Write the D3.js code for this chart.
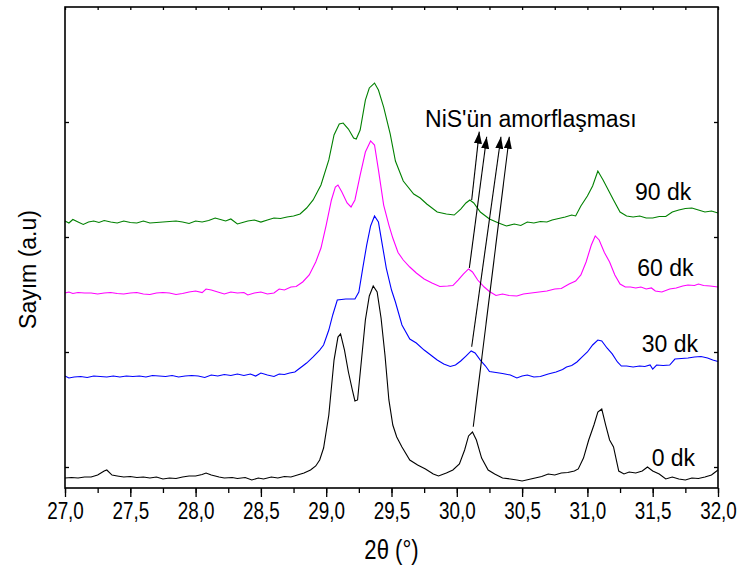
<!DOCTYPE html>
<html>
<head>
<meta charset="utf-8">
<script src="https://cdn.jsdelivr.net/npm/d3@7/dist/d3.min.js"></script>
<style>
  body { margin: 0; background: #fff; }
  .sans { font-family: "Liberation Sans", Arial, sans-serif; }
</style>
</head>
<body>
<div id="chart"></div>
<script>
// 2θ (°) and counts (a.u., curves are offset)
var dk0 = [[27.00,-9.6],[27.05,-9.1],[27.10,-9.6],[27.15,-8.7],[27.20,-8.7],[27.25,-7.0],[27.30,-3.5],[27.32,-2.6],[27.36,-7.0],[27.40,-7.8],[27.45,-8.7],[27.50,-8.3],[27.55,-9.1],[27.60,-8.7],[27.65,-9.6],[27.70,-8.7],[27.75,-10.4],[27.80,-9.6],[27.85,-10.0],[27.90,-8.7],[27.95,-7.8],[28.00,-7.8],[28.05,-6.5],[28.08,-5.2],[28.12,-7.0],[28.18,-8.7],[28.22,-9.6],[28.28,-9.1],[28.32,-10.0],[28.38,-9.1],[28.43,-11.3],[28.48,-9.6],[28.52,-10.4],[28.58,-8.7],[28.63,-9.6],[28.68,-8.3],[28.73,-8.7],[28.78,-7.0],[28.83,-5.2],[28.88,-2.6],[28.92,0.9],[28.95,6.1],[28.98,16.5],[29.02,45.2],[29.06,93.0],[29.09,113.0],[29.11,115.7],[29.14,101.7],[29.17,82.6],[29.20,67.0],[29.22,57.4],[29.24,58.3],[29.27,93.0],[29.30,127.8],[29.33,148.7],[29.36,157.4],[29.39,152.2],[29.42,129.6],[29.45,97.4],[29.48,58.3],[29.51,36.5],[29.54,26.1],[29.58,17.4],[29.64,6.1],[29.70,1.7],[29.76,-1.7],[29.82,-6.1],[29.86,-7.8],[29.92,-5.2],[29.97,-2.6],[30.02,2.6],[30.06,14.8],[30.09,27.0],[30.12,30.4],[30.15,23.5],[30.19,7.8],[30.24,-2.6],[30.29,-6.1],[30.35,-9.6],[30.41,-10.4],[30.46,-11.3],[30.50,-12.2],[30.55,-10.9],[30.60,-9.6],[30.65,-8.3],[30.70,-6.1],[30.75,-7.0],[30.80,-5.2],[30.85,-4.8],[30.90,-3.5],[30.93,-1.7],[30.97,7.8],[31.01,23.5],[31.05,36.5],[31.08,47.8],[31.11,50.4],[31.14,36.5],[31.17,23.5],[31.20,17.4],[31.24,-3.5],[31.28,-6.1],[31.32,-4.3],[31.37,-5.2],[31.42,-3.5],[31.46,0.0],[31.50,-3.5],[31.55,-6.1],[31.60,-10.4],[31.65,-8.7],[31.70,-10.4],[31.75,-11.3],[31.80,-9.6],[31.85,-10.0],[31.90,-8.7],[31.95,-7.0],[32.00,-2.6]];

var dk30 = [[27.00,79.1],[27.03,77.4],[27.07,78.3],[27.12,78.7],[27.17,77.8],[27.22,79.1],[27.27,78.7],[27.32,78.3],[27.37,79.1],[27.42,78.3],[27.47,79.1],[27.52,78.7],[27.57,79.1],[27.62,78.3],[27.67,79.6],[27.72,79.1],[27.77,78.7],[27.82,79.6],[27.87,78.3],[27.92,79.1],[27.97,79.6],[28.02,79.1],[28.07,77.8],[28.12,80.0],[28.17,79.1],[28.22,80.4],[28.27,79.6],[28.32,80.9],[28.37,79.6],[28.42,80.9],[28.46,79.1],[28.50,81.7],[28.55,80.0],[28.60,78.7],[28.64,80.9],[28.68,80.4],[28.72,81.7],[28.76,82.6],[28.80,86.1],[28.85,90.4],[28.90,95.7],[28.95,101.7],[28.98,106.1],[29.02,119.1],[29.05,132.2],[29.085,145.2],[29.15,146.1],[29.22,146.1],[29.25,152.2],[29.28,173.0],[29.31,193.0],[29.34,209.6],[29.37,218.3],[29.40,213.0],[29.43,193.0],[29.46,173.0],[29.50,153.9],[29.53,143.5],[29.58,123.5],[29.64,111.3],[29.69,107.8],[29.75,101.7],[29.80,97.4],[29.85,93.0],[29.90,89.6],[29.95,87.4],[29.99,88.7],[30.03,92.2],[30.07,96.5],[30.11,100.9],[30.14,99.1],[30.18,93.0],[30.22,87.8],[30.25,83.0],[30.30,82.2],[30.35,81.3],[30.41,80.0],[30.46,77.4],[30.50,79.1],[30.54,80.0],[30.59,78.3],[30.64,78.7],[30.70,80.9],[30.76,82.6],[30.81,84.8],[30.84,87.0],[30.88,88.3],[30.92,91.3],[30.96,95.7],[31.00,100.0],[31.04,106.1],[31.08,110.4],[31.11,109.6],[31.15,103.5],[31.19,98.3],[31.23,91.3],[31.26,87.8],[31.30,87.8],[31.35,87.0],[31.40,87.8],[31.44,87.4],[31.48,88.7],[31.50,85.2],[31.53,88.7],[31.58,88.3],[31.63,88.7],[31.67,93.9],[31.72,94.3],[31.77,94.8],[31.82,95.7],[31.87,96.1],[31.92,94.8],[31.96,93.0],[32.00,91.7]];

var dk60 = [[27.00,151.3],[27.03,152.2],[27.06,150.9],[27.10,151.7],[27.15,151.3],[27.20,151.3],[27.25,150.4],[27.30,151.3],[27.35,151.7],[27.40,150.9],[27.45,150.4],[27.50,151.3],[27.55,151.7],[27.60,150.4],[27.65,150.0],[27.70,151.3],[27.75,151.7],[27.80,151.3],[27.85,150.0],[27.90,150.9],[27.95,152.2],[28.00,153.0],[28.05,151.7],[28.08,154.8],[28.12,153.9],[28.17,152.2],[28.22,150.4],[28.27,152.2],[28.32,151.3],[28.37,151.7],[28.40,149.6],[28.45,151.3],[28.50,152.2],[28.55,150.4],[28.60,151.3],[28.64,154.8],[28.68,153.9],[28.73,156.5],[28.77,157.0],[28.82,160.9],[28.87,167.0],[28.92,178.3],[28.96,190.4],[29.00,210.4],[29.04,232.2],[29.07,243.5],[29.09,245.2],[29.12,239.1],[29.16,229.6],[29.19,226.1],[29.22,232.2],[29.26,253.9],[29.30,273.9],[29.34,283.5],[29.37,280.0],[29.40,258.3],[29.44,227.8],[29.48,210.4],[29.51,199.1],[29.55,186.5],[29.59,180.0],[29.64,173.9],[29.69,168.7],[29.75,163.5],[29.81,160.0],[29.87,157.0],[29.93,157.4],[29.97,157.8],[30.01,162.6],[30.05,167.8],[30.09,172.2],[30.12,169.6],[30.16,162.6],[30.21,156.5],[30.25,152.6],[30.30,149.1],[30.35,150.4],[30.40,149.1],[30.46,148.7],[30.51,150.4],[30.57,151.3],[30.63,152.2],[30.69,153.0],[30.75,154.8],[30.80,155.2],[30.86,159.1],[30.91,161.7],[30.95,167.0],[30.99,178.3],[31.03,193.0],[31.06,200.9],[31.09,197.4],[31.13,186.5],[31.17,178.3],[31.21,167.0],[31.25,159.1],[31.29,156.5],[31.33,156.5],[31.37,155.7],[31.41,156.5],[31.45,154.8],[31.49,155.7],[31.52,153.0],[31.57,152.2],[31.63,154.8],[31.68,155.7],[31.73,157.4],[31.77,158.3],[31.82,157.8],[31.85,159.1],[31.89,157.8],[31.94,157.4],[32.00,156.5]];

var dk90 = [[27.00,213.9],[27.03,212.2],[27.06,215.2],[27.10,213.0],[27.14,210.9],[27.18,213.0],[27.22,213.9],[27.26,212.6],[27.30,214.3],[27.35,213.0],[27.40,212.2],[27.45,213.9],[27.50,212.6],[27.55,212.2],[27.60,213.9],[27.65,212.2],[27.70,212.6],[27.75,213.0],[27.80,213.5],[27.85,213.9],[27.90,213.0],[27.95,211.7],[28.00,213.9],[28.05,213.0],[28.10,214.3],[28.15,216.5],[28.19,215.2],[28.23,213.9],[28.27,215.7],[28.32,211.3],[28.36,212.6],[28.40,213.9],[28.45,214.8],[28.50,213.0],[28.55,214.8],[28.60,216.5],[28.65,216.1],[28.70,217.4],[28.75,218.3],[28.80,220.0],[28.85,225.2],[28.90,232.2],[28.96,245.2],[29.02,267.0],[29.06,288.7],[29.10,298.3],[29.13,299.1],[29.17,293.9],[29.21,286.1],[29.23,285.2],[29.26,293.0],[29.30,319.1],[29.33,329.6],[29.37,333.9],[29.40,327.8],[29.44,313.0],[29.49,289.6],[29.53,266.1],[29.59,248.7],[29.67,237.4],[29.72,233.9],[29.77,228.7],[29.85,221.7],[29.92,220.0],[29.98,219.1],[30.03,224.3],[30.07,229.6],[30.10,232.2],[30.13,229.6],[30.18,221.7],[30.25,215.7],[30.32,212.2],[30.38,209.6],[30.44,211.3],[30.49,210.0],[30.54,213.0],[30.59,212.2],[30.64,213.5],[30.69,213.0],[30.73,214.8],[30.78,216.1],[30.83,217.4],[30.88,219.1],[30.91,218.3],[30.95,227.0],[31.00,235.7],[31.04,244.3],[31.08,257.4],[31.12,249.6],[31.16,240.9],[31.20,232.2],[31.25,221.7],[31.30,218.3],[31.35,217.4],[31.40,218.3],[31.45,216.5],[31.50,216.5],[31.55,217.8],[31.60,217.8],[31.65,221.7],[31.70,223.5],[31.75,224.8],[31.80,225.2],[31.85,223.5],[31.90,221.7],[31.95,222.6],[32.00,220.9]];

var seriesNames = ["0 dk", "30 dk", "60 dk", "90 dk"];
var xTickLabels = ["27,0","27,5","28,0","28,5","29,0","29,5","30,0","30,5","31,0","31,5","32,0"];
var yTicks = [0, 100, 200, 300];

// NiS peak (~30.1°) of each curve -> label
var arrowFrom = [[30.126, 35.0], [30.114, 104.6], [30.096, 173.0], [30.114, 232.2]];
var arrowTo = [[30.402, 287.2], [30.338, 287.2], [30.229, 287.2], [30.172, 291.6]];

var colors = ["#000000", "#0000ff", "#ff00ff", "#008000"];
var allSeries = [dk0, dk30, dk60, dk90];

var width = 739, height = 569;
var margin = {top: 7, right: 21, bottom: 81, left: 65};
var w = width - margin.left - margin.right;
var h = height - margin.top - margin.bottom;
var narrow = 0.82; // condensed look of the axis text

var svg = d3.select("#chart").append("svg")
    .attr("width", width)
    .attr("height", height);

var defs = svg.append("defs");
defs.append("marker")
    .attr("id", "head")
    .attr("viewBox", "0 0 12 8")
    .attr("refX", 12).attr("refY", 4)
    .attr("markerWidth", 12).attr("markerHeight", 8)
    .attr("markerUnits", "userSpaceOnUse")
    .attr("orient", "auto")
  .append("path")
    .attr("d", "M0,0L12,4L0,8Z")
    .attr("fill", "#000");

var g = svg.append("g")
    .attr("transform", "translate(" + margin.left + "," + margin.top + ")");

var x = d3.scaleLinear().domain([27, 32]).range([0, w]);
var y = d3.scaleLinear().domain([-18.26, 400]).range([h, 0]);

var line = d3.line()
    .x(function(d){ return x(d[0]); })
    .y(function(d){ return y(d[1]); });

g.selectAll("path.curve")
    .data(allSeries)
    .enter()
    .append("path")
    .attr("class", "curve")
    .attr("d", line)
    .attr("fill", "none")
    .attr("stroke", function(d, i){ return colors[i]; })
    .attr("stroke-width", 1.1);

// arrows
g.selectAll("line.arrow")
    .data(arrowFrom)
    .enter()
    .append("line")
    .attr("class", "arrow")
    .attr("x1", function(d){ return x(d[0]); })
    .attr("y1", function(d){ return y(d[1]); })
    .attr("x2", function(d, i){ return x(arrowTo[i][0]); })
    .attr("y2", function(d, i){ return y(arrowTo[i][1]); })
    .attr("stroke", "#000")
    .attr("stroke-width", 1.1)
    .attr("marker-end", "url(#head)");

// axes
var xMajor = d3.range(0, 11).map(function(i){ return 27 + i * 0.5; });
var xMinor = d3.range(0, 21).map(function(i){ return 27 + i * 0.25; });

g.append("g")
    .attr("transform", "translate(0," + h + ")")
    .call(d3.axisBottom(x).tickValues(xMinor).tickSize(5).tickFormat(""));
var bottom = g.append("g")
    .attr("transform", "translate(0," + h + ")")
    .call(d3.axisBottom(x).tickValues(xMajor).tickSize(9).tickPadding(6)
        .tickFormat(function(d, i){ return xTickLabels[i]; }));
bottom.selectAll("text")
    .attr("font-size", 23)
    .attr("font-family", "Liberation Sans, Arial, sans-serif")
    .attr("fill", "#000")
    .attr("transform", "scale(" + narrow + ",1)");

g.append("g")
    .call(d3.axisBottom(x).tickValues(xMinor).tickSize(3).tickFormat(""));
g.append("g")
    .call(d3.axisRight(y).tickValues(yTicks).tickSize(4).tickFormat(""));
g.append("g")
    .attr("transform", "translate(" + w + ",0)")
    .call(d3.axisLeft(y).tickValues(yTicks).tickSize(4).tickFormat(""));

g.selectAll(".domain").remove();
g.selectAll(".tick line").attr("stroke", "#000").attr("stroke-width", 1.3);

g.append("rect")
    .attr("width", w).attr("height", h)
    .attr("fill", "none")
    .attr("stroke", "#000")
    .attr("stroke-width", 1.6);

// series labels
var labelAt = [[31.492, 0.9], [31.416, 100], [31.382, 166.1], [31.364, 232.2]];
g.selectAll("text.lab")
    .data(seriesNames)
    .enter()
    .append("text")
    .attr("class", "lab sans")
    .attr("x", function(d, i){ return x(labelAt[i][0]); })
    .attr("y", function(d, i){ return y(labelAt[i][1]); })
    .attr("font-size", 23)
    .text(function(d){ return d; });

g.append("text")
    .attr("class", "sans")
    .attr("x", x(29.757))
    .attr("y", y(295.9))
    .attr("font-size", 23)
    .text("NiS'ün amorflaşması");

// axis titles
g.append("text")
    .attr("class", "sans")
    .attr("transform", "translate(" + (w / 2) + "," + (h + 71) + ") scale(" + narrow + ",1)")
    .attr("text-anchor", "middle")
    .attr("font-size", 27)
    .text("2θ (°)");

g.append("text")
    .attr("class", "sans")
    .attr("transform", "translate(-29," + (h / 2 + 22) + ") rotate(-90)")
    .attr("text-anchor", "middle")
    .attr("font-size", 23)
    .text("Sayım (a.u)");
</script>
</body>
</html>
